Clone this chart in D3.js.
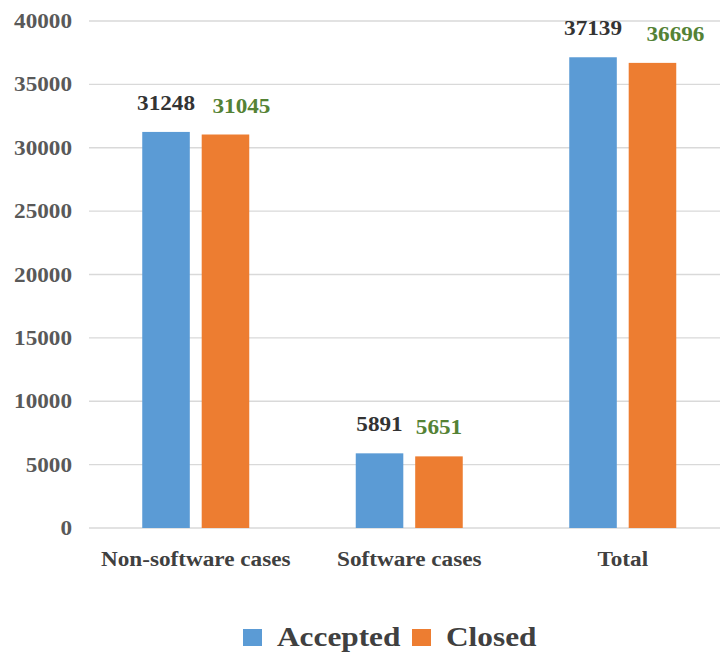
<!DOCTYPE html>
<html>
<head>
<meta charset="utf-8">
<script src="https://cdn.jsdelivr.net/npm/d3@7"></script>
<style>
  html, body { margin: 0; padding: 0; background: #fff; }
  svg { display: block; }
</style>
</head>
<body>
<svg id="chart" width="720" height="657"></svg>
<script>
const categories = ["Non-software cases", "Software cases", "Total"];
const seriesNames = ["Accepted", "Closed"];
const accepted = [31248, 5891, 37139];
const closed = [31045, 5651, 36696];
const yTicks = [0, 5000, 10000, 15000, 20000, 25000, 30000, 35000, 40000];

const colors = { Accepted: "#5b9bd5", Closed: "#ed7d31" };
const labelColors = { Accepted: "#333333", Closed: "#548235" };
const FONT = '"Liberation Serif", "Times New Roman", serif';
const stretch = 1.16; // wide-set lettering
// sideways shift of the "Closed" value labels, per category (px)
const closedLabelShift = [16, 0, 23];

const svg = d3.select("#chart");
const margin = { left: 89, top: 21, bottom: 528 };
const plotRight = 729.5;

const x0 = d3.scaleBand().domain(categories).range([margin.left, plotRight]);
const x1 = d3.scaleBand().domain(seriesNames).range([0, 107]).paddingInner(0.2);
const y = d3.scaleLinear().domain([0, 40000]).range([margin.bottom, margin.top]);

const place = (x, yy) => `translate(${x},${yy}) scale(${stretch},1)`;
const styleText = sel => sel.style("font-family", FONT).style("font-weight", "bold");

// gridlines
svg.append("g").selectAll("line").data(yTicks).join("line")
  .attr("x1", margin.left).attr("x2", 720)
  .attr("y1", d => y(d)).attr("y2", d => y(d))
  .attr("stroke", "#d9d9d9").attr("stroke-width", 1.3);

// y tick labels
svg.append("g").selectAll("text").data(yTicks).join("text")
  .call(styleText)
  .attr("transform", d => place(72, y(d) + 7))
  .attr("text-anchor", "end")
  .attr("font-size", 20).attr("fill", "#595959")
  .text(d => d);

const rows = categories.map((c, i) => ({ cat: c, values: [
  { key: "Accepted", value: accepted[i], shift: 0 },
  { key: "Closed", value: closed[i], shift: closedLabelShift[i] }
]}));

const groups = svg.append("g").selectAll("g").data(rows).join("g")
  .attr("transform", d => `translate(${x0(d.cat) + (x0.bandwidth() - 107) / 2},0)`);

groups.selectAll("rect").data(d => d.values).join("rect")
  .attr("x", d => x1(d.key))
  .attr("width", x1.bandwidth())
  .attr("y", d => y(d.value))
  .attr("height", d => y(0) - y(d.value))
  .attr("fill", d => colors[d.key]);

groups.selectAll("text.val").data(d => d.values).join("text")
  .attr("class", "val")
  .call(styleText)
  .attr("transform", d => place(x1(d.key) + x1.bandwidth() / 2 + d.shift, y(d.value) - 22))
  .attr("text-anchor", "middle")
  .attr("font-size", 20)
  .attr("fill", d => labelColors[d.key])
  .text(d => d.value);

// category labels
svg.append("g").selectAll("text").data(categories).join("text")
  .call(styleText)
  .attr("transform", d => place(x0(d) + x0.bandwidth() / 2, 566))
  .attr("text-anchor", "middle")
  .attr("font-size", 20).attr("fill", "#404040")
  .text(d => d);

// legend
const legend = svg.append("g").attr("transform", "translate(243,646)");
const legendItems = [
  { key: "Accepted", x: 0 },
  { key: "Closed", x: 169 }
];
legendItems.forEach(it => {
  legend.append("rect").attr("x", it.x).attr("y", -17).attr("width", 19).attr("height", 17)
    .attr("fill", colors[it.key]);
  legend.append("text").call(styleText)
    .attr("transform", place(it.x + 34, 0))
    .attr("font-size", 27).attr("fill", "#404040")
    .text(it.key);
});
</script>
</body>
</html>
